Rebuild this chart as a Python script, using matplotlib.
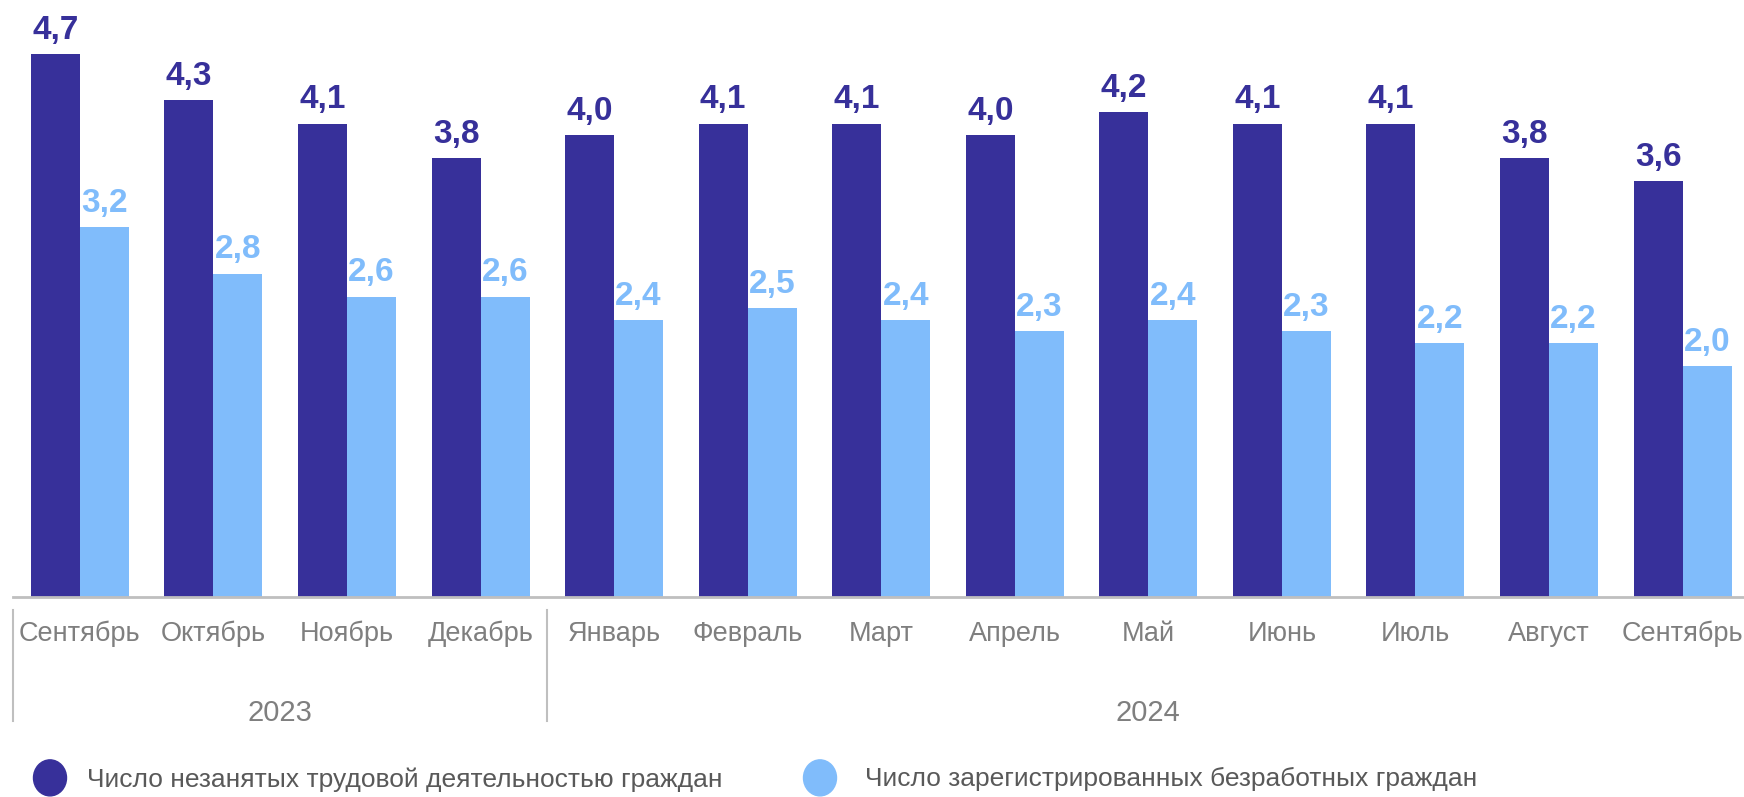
import matplotlib.pyplot as plt
import matplotlib.transforms as mtransforms
from matplotlib.patches import Ellipse
import numpy as np

months = ["Сентябрь", "Октябрь", "Ноябрь", "Декабрь", "Январь", "Февраль", "Март",
          "Апрель", "Май", "Июнь", "Июль", "Август", "Сентябрь"]
unemployed = [4.7, 4.3, 4.1, 3.8, 4.0, 4.1, 4.1, 4.0, 4.2, 4.1, 4.1, 3.8, 3.6]
registered = [3.2, 2.8, 2.6, 2.6, 2.4, 2.5, 2.4, 2.3, 2.4, 2.3, 2.2, 2.2, 2.0]
years = ["2023", "2024"]
year_spans = [(0, 3), (4, 12)]
series_names = ["Число незанятых трудовой деятельностью граждан",
                "Число зарегистрированных безработных граждан"]

DARK = "#37309A"
LIGHT = "#80BCFB"
GRID = "#BFBFBF"

plt.rcParams['font.family'] = ['Liberation Sans', 'DejaVu Sans']

fig = plt.figure(figsize=(17.44, 7.97), dpi=100)
ax = fig.add_axes([0.0075, 0.251, 0.9925, 0.749])

x = np.arange(len(months))
w = 0.367
ax.bar(x - w / 2, unemployed, w, color=DARK)
ax.bar(x + w / 2, registered, w, color=LIGHT)

for xi, v in zip(x, unemployed):
    ax.annotate(f"{v:.1f}".replace(".", ","), (xi - w / 2, v), xytext=(0, 6),
                textcoords="offset points", ha="center", va="bottom",
                fontsize=24, fontweight="bold", color=DARK)
for xi, v in zip(x, registered):
    ax.annotate(f"{v:.1f}".replace(".", ","), (xi + w / 2, v), xytext=(0, 6),
                textcoords="offset points", ha="center", va="bottom",
                fontsize=24, fontweight="bold", color=LIGHT)

ax.set_xlim(-0.5, 12.46)
ax.set_ylim(0, 5.17)
for s in ["top", "right", "left"]:
    ax.spines[s].set_visible(False)
ax.spines["bottom"].set_color(GRID)
ax.spines["bottom"].set_linewidth(2)
ax.set_xticks([])
ax.set_yticks([])

# month and year labels below the axis
trans = mtransforms.blended_transform_factory(ax.transData, fig.transFigure)
for xi, m in zip(x, months):
    ax.text(xi, 0.205, m, transform=trans, ha="center", va="center",
            fontsize=19.5, color="#7F7F7F")
for yr, (a, b) in zip(years, year_spans):
    ax.text((a + b) / 2, 0.105, yr, transform=trans, ha="center", va="center",
            fontsize=21, color="#7F7F7F")
for sep in [-0.5, 3.5]:
    ax.plot([sep, sep], [0.095, 0.235], transform=trans, color=GRID, lw=1.5,
            clip_on=False)

# legend
for cx, tx, col, name in [(50, 87, DARK, series_names[0]),
                          (820, 865, LIGHT, series_names[1])]:
    fig.add_artist(Ellipse((cx / 1744, 0.024), 33 / 1744, 36 / 797,
                           transform=fig.transFigure, color=col))
    fig.text(tx / 1744, 0.022, name, ha="left", va="center", fontsize=19,
             color="#595959")

fig.savefig("out.png", dpi=100)
